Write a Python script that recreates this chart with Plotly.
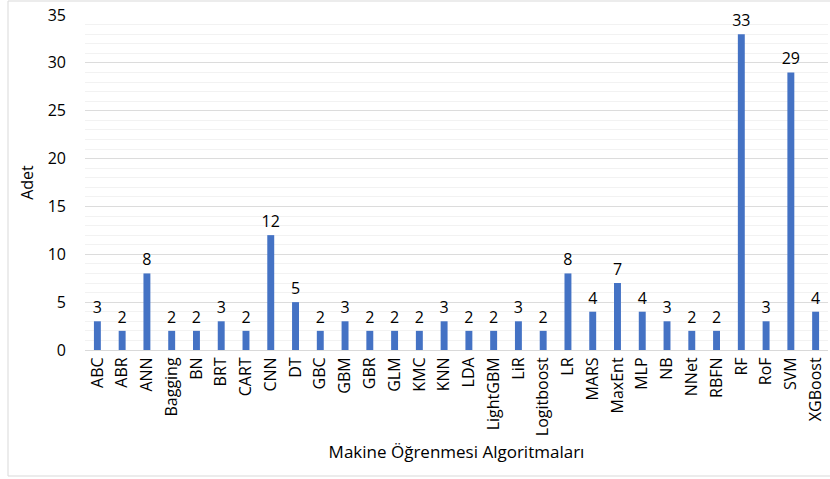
import plotly.graph_objects as go

categories = ["ABC", "ABR", "ANN", "Bagging", "BN", "BRT", "CART", "CNN", "DT", "GBC",
              "GBM", "GBR", "GLM", "KMC", "KNN", "LDA", "LightGBM", "LiR", "Logitboost", "LR",
              "MARS", "MaxEnt", "MLP", "NB", "NNet", "RBFN", "RF", "RoF", "SVM", "XGBoost"]
counts = [3, 2, 8, 2, 2, 3, 2, 12, 5, 2,
          3, 2, 2, 2, 3, 2, 2, 3, 2, 8,
          4, 7, 4, 3, 2, 2, 33, 3, 29, 4]
y_ticks = [0, 5, 10, 15, 20, 25, 30, 35]

FONT = "Open Sans"

fig = go.Figure(go.Bar(
    x=categories, y=counts,
    marker=dict(color="#4472C4", line=dict(width=0)),
    text=[str(v) for v in counts], textposition="outside",
    constraintext="none",
    textfont=dict(family=FONT, size=16, color="#000000"),
    cliponaxis=False,
))

fig.update_layout(
    width=830, height=479,
    margin=dict(l=85, r=2, t=15, b=129),
    paper_bgcolor="white", plot_bgcolor="white",
    bargap=0.72,
    showlegend=False,
    font=dict(family=FONT, color="#000000"),
    xaxis=dict(
        tickangle=-90, tickfont=dict(family=FONT, size=16, color="#000000"),
        showgrid=False, showline=True, linecolor="#d9d9d9", linewidth=1,
        ticks="", title=dict(text="Makine Öğrenmesi Algoritmaları",
                             font=dict(family=FONT, size=17, color="#000000"), standoff=10),
    ),
    yaxis=dict(
        range=[0, 35], tickvals=y_ticks,
        tickfont=dict(family=FONT, size=16, color="#000000"),
        showgrid=True, gridcolor="#dcdcdc", gridwidth=1,
        minor=dict(dtick=1, showgrid=True, gridcolor="#f2f2f2", gridwidth=1),
        zeroline=False, showline=False, ticks="",
        ticklabelstandoff=18,
        title=dict(text="Adet", font=dict(family=FONT, size=16, color="#000000"), standoff=10),
    ),
    shapes=[dict(type="rect", xref="paper", yref="paper",
                 x0=-77/743, x1=1.01, y0=-126/335, y1=1 + 14/335,
                 line=dict(color="#d9d9d9", width=1), layer="below")],
)

fig.write_html("out.html")
